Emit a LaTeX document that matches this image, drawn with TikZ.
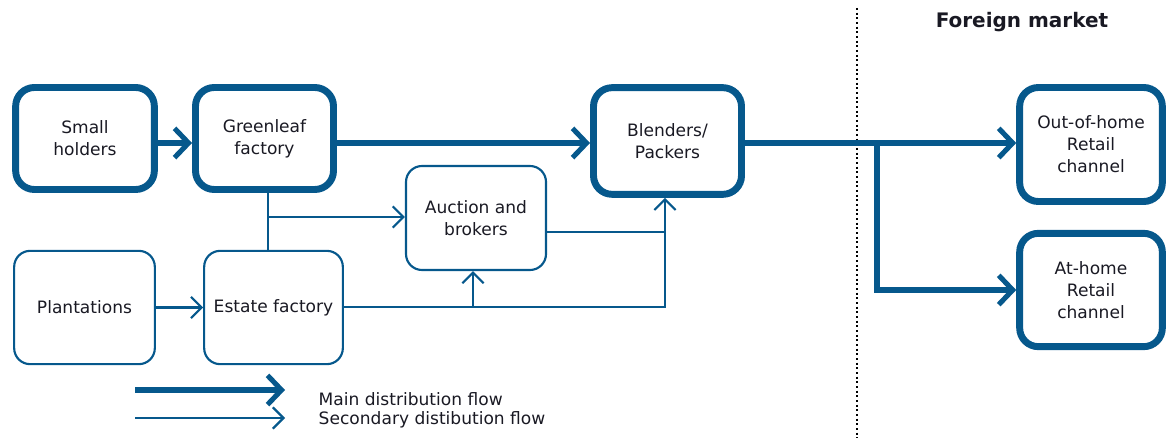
\documentclass[tikz,border=0pt]{standalone}
\usepackage{fontspec}
\setmainfont{DejaVu Sans}
\usetikzlibrary{arrows.meta}
\definecolor{flow}{RGB}{6,88,140}
\definecolor{ink}{RGB}{25,25,35}

\begin{document}
\begin{tikzpicture}[x=0.75pt,y=-0.75pt,
    font=\fontsize{12.8}{16.5}\selectfont, text=ink,
    mainbox/.style={draw=flow, line width=5.2pt, rounded corners=14pt, align=center},
    secbox/.style={draw=flow, line width=1.6pt, rounded corners=12pt, align=center},
    mainflow/.style={draw=flow, line width=3.8pt, -{Straight Barb[length=10.5pt,width=22pt,line width=3.8pt]}},
    secflow/.style={draw=flow, line width=1.6pt, -{Straight Barb[length=8pt,width=16pt,line width=1.6pt]}},
    secline/.style={draw=flow, line width=1.6pt}] %% pixel units
            \useasboundingbox (0,0) rectangle (1169,438);

            % boxes
            \node [mainbox, minimum width=104pt, minimum height=76.5pt] (small) at (85,138.5) {Small\\holders};
            \node [mainbox, minimum width=103.5pt, minimum height=76.5pt] (green) at (264.5,138.5) {Greenleaf\\factory};
            \node [mainbox, minimum width=111pt, minimum height=80pt] (blend) at (667.5,141) {Blenders/\\Packers};
            \node [mainbox, minimum width=107pt, minimum height=85.5pt] (out) at (1091,144.5) {Out-of-home\\Retail\\channel};
            \node [mainbox, minimum width=107pt, minimum height=85pt] (athome) at (1091,290) {At-home\\Retail\\channel};
            \node [secbox, minimum width=105pt, minimum height=78pt] (auction) at (476,218) {Auction and\\brokers};
            \node [secbox, minimum width=105.5pt, minimum height=85pt] (plant) at (84.5,307.5) {Plantations};
            \node [secbox, minimum width=104pt, minimum height=85pt] (estate) at (273.5,307.5) {Estate factory};

            \node [font=\fontsize{15}{18}\selectfont\bfseries] (foreign) at (1022,22) {Foreign market};
            \draw [line width=1.5pt, dotted] (857,8) -- (857,438);

            % main flow
            \draw [mainflow] (small.east |- 0,143) -- (green.west |- 0,143);
            \draw [mainflow] (green.east |- 0,143) -- (blend.west |- 0,143);
            \coordinate (split) at (877,143);
            \draw [mainflow] (blend.east |- split) -- (out.west |- split);
            \draw [mainflow] (split) |- (athome.west);

            % secondary flow
            \coordinate (gj) at (268,217);
            \draw [secline] (green.south -| gj) -- (estate.north -| gj);
            \draw [secflow] (gj) -- (gj -| auction.west);
            \draw [secflow] (plant) -- (estate);
            \coordinate (ej) at (665,307);
            \draw [secflow] (estate.east |- ej) -- (ej) -- (ej |- blend.south);
            \draw [secflow] (estate.east -| 473,0) -- (auction.south -| 473,0);
            \draw [secline] (auction.east |- 0,232) -- (ej |- 0,232);

            % legend
            \coordinate (mainA) at (135,390);
            \coordinate (mainB) at (285,390);
            \coordinate (secA) at (135,418);
            \coordinate (secB) at (285,418);
            \draw [mainflow] (mainA) -- (mainB);
            \draw [secflow] (secA) -- (secB);
            \node [anchor=west] (mainlbl) at (314,399) {Main distribution flow};
            \node [anchor=west] (seclbl) at (314,420) {Secondary distibution flow};
\end{tikzpicture}
\end{document}
